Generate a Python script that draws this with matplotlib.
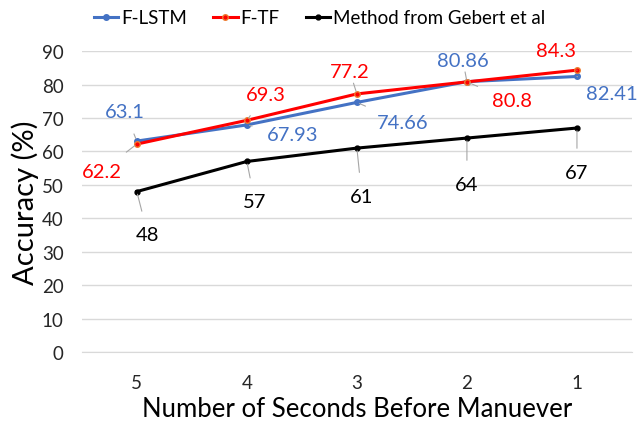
import matplotlib.pyplot as plt

plt.rcParams['font.family'] = ['Lato', 'DejaVu Sans']

seconds = ['5', '4', '3', '2', '1']
f_lstm = [63.1, 67.93, 74.66, 80.86, 82.41]
f_tf = [62.2, 69.3, 77.2, 80.8, 84.3]
gebert = [48, 57, 61, 64, 67]

# label offsets (pixels) from each point, like Excel's dragged data labels
lstm_off = [(-12, 30), (46, -10), (46, -20), (-4, 21), (35, -17)]
tf_off = [(-35, -27), (19, 26), (-7, 22), (45, -19), (-21, 20)]
geb_off = [(11, -43), (8, -40), (5, -48), (0, -46), (0, -44)]

fig = plt.figure(figsize=(6.39, 4.27), dpi=100)
ax = fig.add_axes([0.128, 0.173, 0.861, 0.705])

x = list(range(len(seconds)))
ax.plot(x, gebert, color='black', lw=2.2, marker='o', ms=3.5, label='Method from Gebert et al', zorder=3)
ax.plot(x, f_lstm, color='#4472C4', lw=2.2, marker='o', ms=4, label='F-LSTM', zorder=4)
ax.plot(x, f_tf, color='#FF0000', lw=2.2, marker='o', ms=4, mfc='#FF0000', mec='#ED7D31', label='F-TF', zorder=5)


def labels(vals, offs, color):
    for i, (v, o) in enumerate(zip(vals, offs)):
        ax.annotate(f'{v:g}', (i, v), xytext=o, textcoords='offset pixels',
                    ha='center', va='center', fontsize=14.5, color=color,
                    arrowprops=dict(arrowstyle='-', color='#A6A6A6', lw=0.8,
                                    shrinkA=9, shrinkB=2), zorder=6)


labels(f_lstm, lstm_off, '#4472C4')
labels(f_tf, tf_off, '#FF0000')
labels(gebert, geb_off, 'black')

ax.set_ylim(0, 90)
ax.set_xlim(-0.5, 4.5)
ax.set_yticks(range(0, 91, 10))
ax.set_xticks(x)
ax.set_xticklabels(seconds)
ax.grid(axis='y', color='#D9D9D9', lw=1)
ax.set_axisbelow(True)
for s in ['top', 'right', 'left']:
    ax.spines[s].set_visible(False)
ax.spines['bottom'].set_color('#D9D9D9')
ax.tick_params(length=0, labelsize=13.5, colors='#262626')
ax.tick_params(axis='y', pad=13)
ax.tick_params(axis='x', pad=16)
ax.set_xlabel('Number of Seconds Before Manuever', fontsize=18.5, color='black', labelpad=3)
ax.set_ylabel('Accuracy (%)', fontsize=21, color='black', labelpad=2)

h, l = ax.get_legend_handles_labels()
fig.legend([h[1], h[2], h[0]], [l[1], l[2], l[0]], loc='upper center', bbox_to_anchor=(0.5, 1.015),
           ncol=3, frameon=False, fontsize=13.5, handlelength=1.3, columnspacing=1.4,
           handletextpad=0.15)

fig.savefig('out.png', dpi=100)
